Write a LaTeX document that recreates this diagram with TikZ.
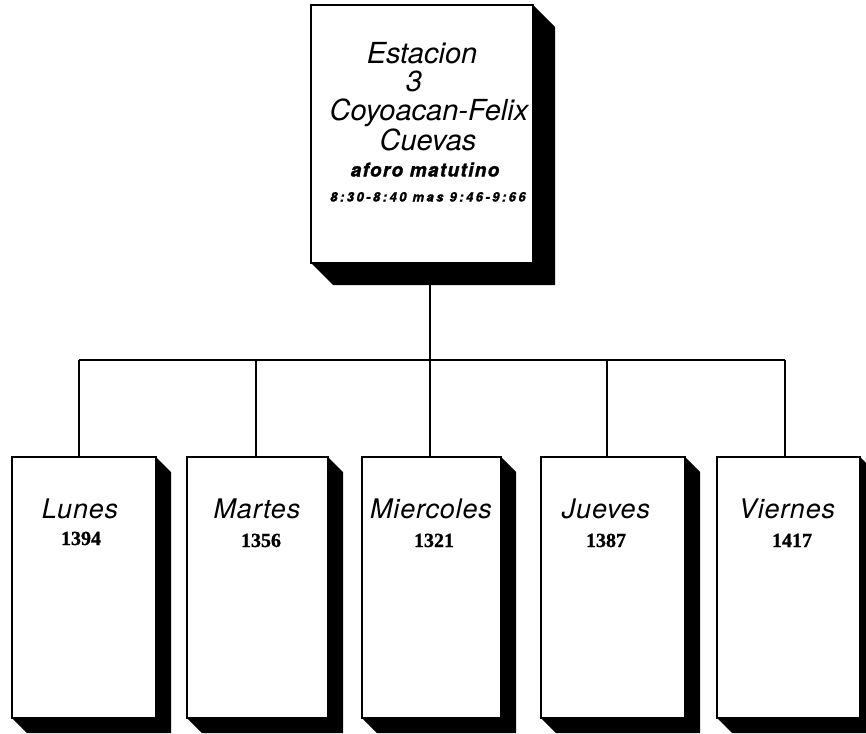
\documentclass[tikz,border=0pt]{standalone}
\usepackage{fontspec}
\newfontfamily\hv{TeX Gyre Heros}
\newfontfamily\hvheavy[FakeBold=1.5]{TeX Gyre Heros}
\newfontfamily\tms[FakeBold=1]{Liberation Serif}
\usetikzlibrary{calc}
\tikzset{
  face/.style={draw, line width=2pt, fill=white, outer sep=0pt, inner sep=0pt, anchor=north west},
  conn/.style={line width=1.6pt},
  title/.style={font={\hv\itshape\fontsize{29}{31}\selectfont}, anchor=base, inner sep=0pt},
  sub/.style={font={\hvheavy\bfseries\itshape\fontsize{19}{20}\selectfont\addfontfeatures{LetterSpace=7}}, anchor=base, inner sep=0pt},
  tiny/.style={font={\hvheavy\bfseries\itshape\fontsize{13}{14}\selectfont\addfontfeatures{LetterSpace=19}}, anchor=base, inner sep=0pt},
  day/.style={font={\hv\itshape\fontsize{27}{29}\selectfont\addfontfeatures{LetterSpace=3}}, anchor=base, inner sep=0pt},
  num/.style={font={\tms\bfseries\fontsize{20}{21}\selectfont}, anchor=base, inner sep=0pt},
}
\newcommand\boxshadow[2]{%
  \fill (#1.north east) -- ++(#2,#2) -- ($(#1.south east)+(#2,#2)$) -- ($(#1.south west)+(#2,#2)$) -- (#1.south west) -- (#1.south east) -- cycle;}
\begin{document}
\begin{tikzpicture}[x=1pt,y=-1pt]
\useasboundingbox[fill=white] (0,0) rectangle (866,733);
% coordinates of the connector
\coordinate (bus) at (430,360);
\coordinate (d1) at (79,360);
\coordinate (d2) at (256,360);
\coordinate (d3) at (430,360);
\coordinate (d4) at (607,360);
\coordinate (d5) at (785,360);
% boxes
\node[face, minimum width=222pt, minimum height=258pt] (top) at (311,5) {};
\node[face, minimum width=144pt, minimum height=261pt] (lun) at (12,457) {};
\node[face, minimum width=141pt, minimum height=261pt] (mar) at (187,457) {};
\node[face, minimum width=139pt, minimum height=261pt] (mie) at (362,457) {};
\node[face, minimum width=144pt, minimum height=261pt] (jue) at (541,457) {};
\node[face, minimum width=143pt, minimum height=261pt] (vie) at (717,457) {};
% connectors
\draw[conn] (top.south -| bus) -- (bus);
\draw[conn] (d1) -- (d5);
\draw[conn] (d1) -- (d1 |- lun.north);
\draw[conn] (d2) -- (d2 |- mar.north);
\draw[conn] (d3) -- (d3 |- mie.north);
\draw[conn] (d4) -- (d4 |- jue.north);
\draw[conn] (d5) -- (d5 |- vie.north);
% shadows
\boxshadow{top}{22}
\boxshadow{lun}{15}
\boxshadow{mar}{15}
\boxshadow{mie}{15}
\boxshadow{jue}{15}
\boxshadow{vie}{15}
% top texts
\node[title] (t1) at (422,64) {Estacion};
\node[title] (t2) at (414,91.5) {3};
\node[title] (t3) at (429,120.5) {Coyoacan-Felix};
\node[title] (t4) at (428,150) {Cuevas};
\node[sub] (t5) at (425,176.5) {aforo matutino};
\node[tiny] (t6) at (428,201.5) {8:30-8:40 mas 9:46-9:66};
% day texts
\node[day] (l1) at (80,518) {Lunes};
\node[num] (l2) at (81,545) {1394};
\node[day] (m1) at (257,518) {Martes};
\node[num] (m2) at (261,547) {1356};
\node[day] (w1) at (431,518) {Miercoles};
\node[num] (w2) at (434,547) {1321};
\node[day] (j1) at (606,518) {Jueves};
\node[num] (j2) at (606,547) {1387};
\node[day] (v1) at (787,518) {Viernes};
\node[num] (v2) at (792,547) {1417};
\end{tikzpicture}
\end{document}
